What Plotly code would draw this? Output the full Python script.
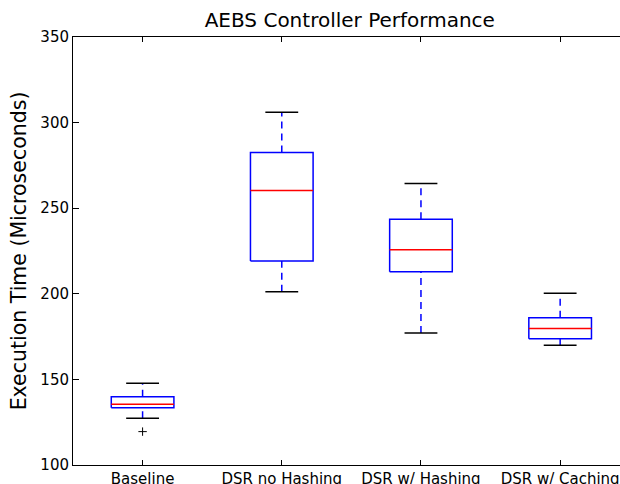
import plotly.graph_objects as go

categories = ["Baseline", "DSR no Hashing", "DSR w/ Hashing", "DSR w/ Caching"]
q1 = [133.5, 219.2, 212.9, 173.8]
median = [135.5, 260.4, 225.8, 179.8]
q3 = [139.9, 282.6, 243.5, 186.0]
whisker_low = [127.3, 201.2, 177.1, 169.9]
whisker_high = [147.7, 306.0, 264.5, 200.3]
outlier_cat = [1]
outlier_val = [119.5]
y_ticks = [100, 150, 200, 250, 300, 350]

BOX_HALF = 0.225
CAP_HALF = 0.118
pos = list(range(1, len(categories) + 1))

box_x, box_y = [], []
med_x, med_y = [], []
wh_x, wh_y = [], []
cap_x, cap_y = [], []
for p, a, m, b, lo, hi in zip(pos, q1, median, q3, whisker_low, whisker_high):
    box_x += [p - BOX_HALF, p + BOX_HALF, p + BOX_HALF, p - BOX_HALF, p - BOX_HALF, None]
    box_y += [a, a, b, b, a, None]
    med_x += [p - BOX_HALF, p + BOX_HALF, None]
    med_y += [m, m, None]
    wh_x += [p, p, None, p, p, None]
    wh_y += [b, hi, None, lo, a, None]
    cap_x += [p - CAP_HALF, p + CAP_HALF, None, p - CAP_HALF, p + CAP_HALF, None]
    cap_y += [hi, hi, None, lo, lo, None]

fig = go.Figure()
fig.add_trace(go.Scatter(x=wh_x, y=wh_y, mode="lines",
                         line=dict(color="#0000ff", width=1.5, dash="7px,5px"), hoverinfo="skip"))
fig.add_trace(go.Scatter(x=cap_x, y=cap_y, mode="lines",
                         line=dict(color="#000000", width=1.5), hoverinfo="skip"))
fig.add_trace(go.Scatter(x=box_x, y=box_y, mode="lines",
                         line=dict(color="#0000ff", width=1.5), hoverinfo="skip"))
fig.add_trace(go.Scatter(x=med_x, y=med_y, mode="lines",
                         line=dict(color="#ff0000", width=1.5), hoverinfo="skip"))
fig.add_trace(go.Scatter(x=outlier_cat, y=outlier_val, mode="markers",
                         marker=dict(symbol="cross-thin", size=6,
                                     line=dict(color="#000000", width=1)),
                         hoverinfo="skip"))

font = "DejaVu Sans"
fig.update_layout(
    width=620, height=484,
    margin=dict(l=73, r=0, t=37, b=19),
    plot_bgcolor="white", paper_bgcolor="white",
    showlegend=False,
    font=dict(family=font, color="#000000", size=15),
    title=dict(text="AEBS Controller Performance", x=0.506, xref="paper",
               xanchor="center", y=0.958, yanchor="middle", yref="container",
               font=dict(size=20, family=font, color="#000000")),
)
fig.update_xaxes(
    range=[0.5, 4.43], tickvals=pos, ticktext=categories,
    showgrid=False, zeroline=False, showline=True, linecolor="#000000", linewidth=1,
    mirror="ticks", ticks="inside", ticklen=5, tickwidth=1, tickcolor="#000000",
    tickfont=dict(size=15, family=font, color="#000000"), automargin=False,
)
fig.update_yaxes(
    range=[100, 350], tickvals=y_ticks,
    showgrid=False, zeroline=False, showline=True, linecolor="#000000", linewidth=1,
    ticks="inside", ticklen=6, tickwidth=1, tickcolor="#000000",
    tickfont=dict(size=15, family=font, color="#000000"),
    title=dict(text="Execution Time (Microseconds)", font=dict(size=20.5, family=font, color="#000000"),
               standoff=8),
    automargin=False,
)

fig.write_html("out.html")
